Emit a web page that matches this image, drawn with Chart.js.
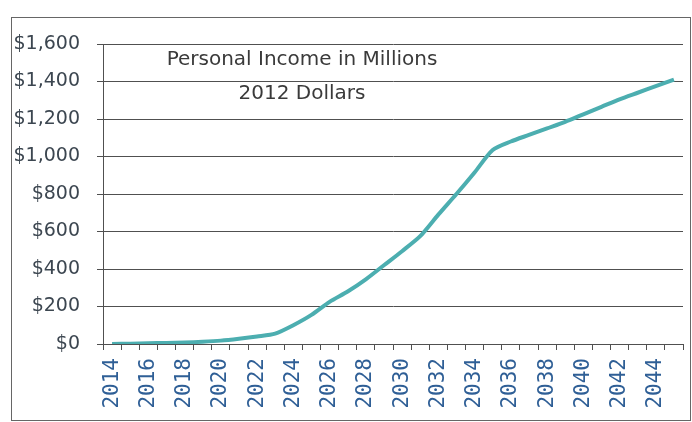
<!DOCTYPE html>
<html>
<head>
<meta charset="utf-8">
<script src="https://cdn.jsdelivr.net/npm/chart.js@4.4.1/dist/chart.umd.min.js"></script>
<style>
  html, body { margin: 0; padding: 0; background: #fff; }
  #wrap { position: relative; width: 692px; height: 422px; }
  #frame {
    position: absolute; left: 11px; top: 17px; width: 678px; height: 402px;
    border: 1px solid #666; pointer-events: none;
  }
</style>
</head>
<body>
<div id="wrap">
  <canvas id="chart" width="692" height="422"></canvas>
  <div id="frame"></div>
</div>
<script>
const years = [
  2014, 2015, 2016, 2017, 2018, 2019, 2020, 2021, 2022, 2023,
  2024, 2025, 2026, 2027, 2028, 2029, 2030, 2031, 2032, 2033,
  2034, 2035, 2036, 2037, 2038, 2039, 2040, 2041, 2042, 2043,
  2044, 2045,
]
// personal income, millions of 2012 dollars
const income = [
  0, 2, 4, 6, 8, 12, 18, 28, 40, 55,
  100, 155, 225, 280, 345, 420, 495, 575, 690, 800,
  915, 1035, 1080, 1115, 1150, 1185, 1225, 1265, 1305, 1340,
  1375, 1410,
]
const yTicks = [0, 200, 400, 600, 800, 1000, 1200, 1400, 1600]
const titleLines = ["Personal Income in Millions", "2012 Dollars"]

const lineColor = "#4caeb0"
const gridColor = "#505050"
const textColor = "#3c4650"
const yearColor = "#2f5f96"

// title sits inside the plot area, like the Excel text box
const insideTitle = {
  id: "insideTitle",
  afterDraw(chart) {
    const { ctx, chartArea } = chart
    ctx.save()
    ctx.fillStyle = "#3a3a3a"
    ctx.font = "20px 'DejaVu Sans'"
    ctx.textAlign = "center"
    ctx.textBaseline = "middle"
    const cx = chartArea.left + 199
    ctx.fillText(titleLines[0], cx, chartArea.top + 16)
    ctx.fillText(titleLines[1], cx, chartArea.top + 50)
    ctx.restore()
  },
}

new Chart(document.getElementById("chart"), {
  type: "line",
  data: {
    labels: years.map(String),
    datasets: [
      {
        label: "Personal Income",
        data: income,
        borderColor: lineColor,
        borderWidth: 4,
        pointRadius: 0,
        tension: 0.25,
        fill: false,
      },
    ],
  },
  options: {
    responsive: false,
    animation: false,
    layout: { padding: { top: 44, right: 9, left: 0, bottom: 0 } },
    plugins: {
      legend: { display: false },
      tooltip: { enabled: false },
    },
    scales: {
      x: {
        offset: true,
        grid: {
          offset: true,
          drawOnChartArea: false,
          drawTicks: true,
          tickLength: 6,
          color: gridColor,
        },
        border: { display: true, color: gridColor },
        ticks: {
          autoSkip: false,
          minRotation: 90,
          maxRotation: 90,
          padding: 8,
          color: yearColor,
          font: { family: "'DejaVu Sans Mono'", size: 21 },
          callback: function (value, index) {
            return index % 2 === 0 ? this.getLabelForValue(value) : ""
          },
        },
        afterFit: (scale) => {
          scale.height = 78
          scale.paddingLeft = 0
          scale.paddingRight = 0
        },
      },
      y: {
        min: 0,
        max: 1600,
        afterBuildTicks: (scale) => {
          scale.ticks = yTicks.map((v) => ({ value: v }))
        },
        grid: { color: gridColor, tickLength: 6 },
        border: { display: true, color: gridColor },
        ticks: {
          padding: 17,
          color: textColor,
          font: { family: "'DejaVu Sans'", size: 19 },
          callback: (v) => "$" + v.toLocaleString("en-US"),
        },
        afterFit: (scale) => { scale.width = 103 },
      },
    },
  },
  plugins: [insideTitle],
})
</script>
</body>
</html>
